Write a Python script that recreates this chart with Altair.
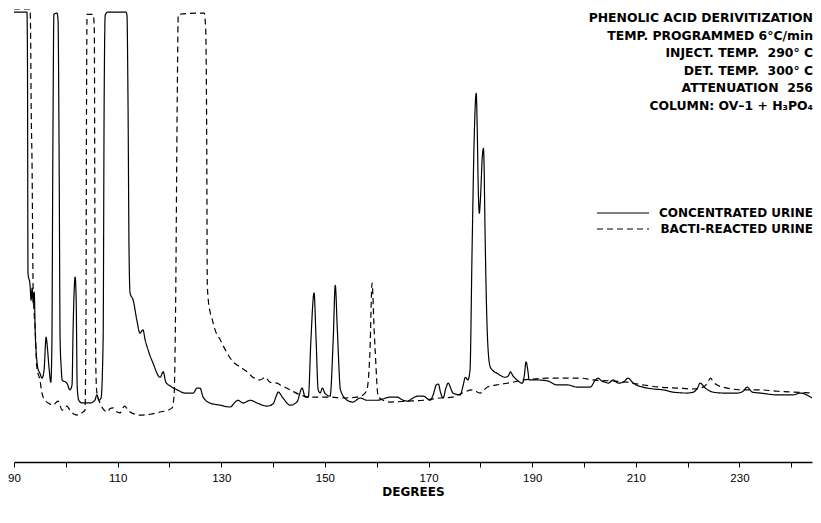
import altair as alt
import pandas as pd

# ---- data (degrees, detector response 0-100) ----
conc_deg = [90, 92.5, 92.6, 92.7, 93.1, 93.3, 93.5, 93.7, 93.9, 94.1, 94.4, 94.6, 95.0, 95.4, 95.8,
            96.2, 96.4, 96.8, 97.1, 97.3, 97.5, 97.7, 98.3, 98.5, 98.7, 98.9, 99.1, 99.3, 100.2, 100.8,
            101.2, 101.4, 101.8, 102.0, 102.2, 102.5, 103.1, 104.7, 105.6, 106.0, 106.4, 106.8, 107.2,
            107.4, 107.6, 108.0, 111.6, 111.8, 112.0, 112.2, 112.4, 113.0, 113.7, 114.3, 114.9, 115.3,
            115.7, 116.8, 118.2, 118.8, 119.3, 120.1, 121.5, 123.0, 124.6, 125.3, 125.9, 126.5, 127.8,
            129.8, 131.7, 132.7, 133.2, 134.2, 135.6, 136.9, 138.8, 140.0, 140.6, 141.0, 141.9, 143.3,
            144.6, 145.6, 146.2, 146.8, 147.3, 147.9, 148.3, 148.7, 149.1, 149.5, 150.0, 151.0, 151.6,
            152.0, 152.4, 153.0, 154.3, 155.4, 156.8, 158.1, 160.1, 161.2, 162.6, 163.9, 165.1, 165.9,
            167.0, 167.8, 169.0, 170.3, 170.9, 171.5, 171.9, 172.3, 172.8, 173.4, 173.8, 174.4, 174.7,
            176.1, 176.7, 177.1, 177.6, 178.0, 178.4, 178.8, 179.2, 179.4, 179.6, 179.8, 180.0, 180.4,
            180.6, 180.7, 180.9, 181.3, 181.5, 181.9, 182.5, 183.2, 184.8, 185.4, 185.8, 186.3, 186.7,
            188.1, 188.5, 188.8, 189.2, 189.4, 191.0, 192.9, 194.8, 196.8, 198.7, 201.2, 202.2, 202.7,
            203.5, 204.1, 204.7, 205.6, 206.6, 207.6, 208.5, 209.5, 211.4, 213.4, 215.3, 217.2, 219.9,
            221.1, 221.9, 222.4, 223.4, 224.9, 226.9, 229.6, 230.7, 231.5, 232.5, 234.0, 237.3, 240.4,
            241.7, 244.0]
conc_val = [99.8, 99.8, 89, 41.9, 39.2, 35.9, 38.6, 35.3, 37.7, 28.6, 22.6, 20.8, 19.7, 18.6, 20.4,
            27.7, 25.9, 20.4, 17.7, 24.8, 69.2, 99.3, 99.6, 98, 69.2, 27.1, 21.1, 18.2, 17.5, 16.0,
            17.1, 29.3, 41.0, 35.9, 16.6, 13.7, 13.1, 13.1, 13.7, 14.9, 13.7, 14.2, 27.1,
            80.3, 99.1, 99.8, 99.8, 99.1, 80.3, 47.0, 37.5, 35.9, 31.5, 28.6, 29.3, 27.1,
            25.5, 22.0, 18.8, 20.0, 17.7, 16.9, 16.0, 15.3, 15.3, 16.4, 16.4, 14.4, 13.1,
            12.6, 12.2, 13.3, 13.7, 13.1, 13.7, 13.1, 12.4, 12.9, 14.6, 15.5, 14.2, 12.6,
            13.3, 16.4, 14.4, 14.4, 27.1, 37.5, 27.1, 16.0, 15.3, 16.4, 15.3, 14.6, 27.1,
            39.2, 29.3, 16.0, 13.7, 13.3, 14.2, 13.7, 13.7, 14.0, 14.4, 14.4, 13.7, 13.5,
            14.2, 14.6, 14.6, 13.7, 14.9, 17.1, 17.3, 15.5, 14.2, 16.6, 17.5, 16.0, 15.3,
            14.9, 17.1, 18.8, 18.2, 20.4, 47.0, 71.4, 81.8, 73.6, 60.3, 55.2, 58.1, 68.1,
            69.6, 66.9, 51.4, 29.9, 24.8, 21.1, 20.2, 19.7, 18.8, 19.1, 20.0, 19.1, 18.6,
            17.5, 19.3, 22.2, 20.0, 18.2, 18.2, 18.0, 17.1, 17.1, 16.6, 16.6, 18.2, 18.6,
            17.9, 17.7, 17.5, 18.2, 17.5, 17.7, 18.6, 17.5, 16.6, 16.2, 16.0, 15.5, 15.3,
            15.5, 16.4, 17.5, 16.4, 15.5, 15.3, 15.3, 15.7, 16.6, 15.5, 15.3, 14.9, 14.9,
            15.3, 14.2]

bact_deg = [90, 93.1, 93.2, 93.3, 93.5, 93.6, 93.7, 94.1, 94.4, 95.0, 95.4, 96.0, 96.9, 97.5, 98.5,
            99.3, 100.2, 100.8, 101.6, 102.4, 103.1, 103.7, 103.9, 104.0, 104.1, 105.3, 105.5, 105.6,
            105.8, 106.0, 106.6, 107.4, 108.0, 108.5, 109.1, 109.9, 110.5, 111.0, 111.4, 112.0, 112.4,
            113.4, 114.3, 116.3, 118.2, 119.7, 120.5, 120.9, 121.2, 121.5, 121.7, 126.7, 127.0, 127.2,
            127.3, 127.5, 127.8, 128.2, 128.8, 129.8, 131.1, 132.3, 133.6, 135.0, 136.1, 137.5, 138.5,
            139.4, 140.8, 141.4, 143.3, 145.2, 147.1, 149.1, 151.0, 153.5, 156.2, 157.4, 158.1, 158.7,
            159.1, 159.5, 159.7, 160.3, 162.6, 165.9, 169.0, 172.2, 174.7, 176.5, 178.4, 180.0, 181.3,
            183.2, 186.3, 188.3, 190.2, 192.9, 196.0, 199.3, 201.8, 205.1, 208.3, 211.4, 214.7, 218.0,
            221.1, 223.0, 223.8, 224.4, 225.0, 225.7, 227.6, 230.7, 234.0, 237.3, 240.4, 244.0]
bact_val = [100.5, 100.5, 95.8, 80.3, 64.1, 49.2, 38.1, 29.3, 21.1, 18.2, 15.3, 13.7, 12.9, 12.6, 13.5,
            11.5, 12.4, 11.5, 10.6, 10.4, 10.9, 11.5, 35.9, 80.3, 99.3, 99.3, 95.8, 58.1,
            20.4, 15.3, 13.1, 11.5, 11.1, 11.8, 12.0, 11.1, 10.9, 12.0, 12.4, 11.5, 11.1,
            10.6, 10.4, 10.6, 11.1, 11.5, 12.0, 14.9, 35.9, 80.3, 99.3, 99.6, 95.8, 69.2,
            39.7, 35.9, 33.5, 31.9, 29.3, 27.1, 24.2, 22.2, 21.1, 20.0, 18.8, 18.2, 18.8,
            17.7, 17.5, 17.1, 16.0, 14.9, 14.4, 14.4, 14.4, 14.2, 14.4, 14.9, 16.0, 24.8,
            39.7, 29.3, 24.8, 14.4, 13.3, 13.5, 13.7, 14.2, 14.4, 15.3, 16.0, 15.3, 16.6,
            17.1, 17.7, 18.2, 18.4, 18.6, 18.6, 18.6, 18.2, 18.0, 17.7, 17.1, 16.6, 16.4,
            16.2, 16.6, 17.5, 18.6, 17.7, 17.1, 16.4, 16.0, 16.0, 15.7, 15.5, 15.3]

series = ["CONCENTRATED URINE", "BACTI-REACTED URINE"]
dashes = [[1, 0], [6, 4]]

NB = "\u00a0"
info_lines = ["PHENOLIC ACID DERIVITIZATION",
              "TEMP. PROGRAMMED 6°C/min",
              f"INJECT. TEMP.{NB}{NB}290° C",
              f"DET. TEMP.{NB}{NB}300° C",
              f"ATTENUATION{NB}{NB}256",
              "COLUMN: OV\u20131 + H\u2083PO\u2084"]

tick_values = list(range(90, 250, 10))

df = pd.concat([
    pd.DataFrame({"deg": conc_deg, "val": conc_val, "series": series[0], "order": range(len(conc_deg))}),
    pd.DataFrame({"deg": bact_deg, "val": bact_val, "series": series[1], "order": range(len(bact_deg))}),
])

W, H = 798, 453
BOLD = "DejaVu Sans"
FS = 12

x = alt.X("deg:Q", scale=alt.Scale(domain=[90, 244], nice=False, zero=False),
          axis=alt.Axis(values=tick_values, labelExpr="(datum.value - 90) % 20 == 0 ? datum.value : ''",
                        title="DEGREES", titleFont=BOLD, titleFontWeight="bold", titleFontSize=FS,
                        titleColor="black", titlePadding=3, labelFont="Liberation Sans", labelFontSize=11.5,
                        labelColor="black", labelPadding=5, tickSize=5, tickColor="black",
                        domainColor="black", domainWidth=1.5, tickWidth=1, grid=False, labelFlush=False))

lines = alt.Chart(df).mark_line(color="black", strokeWidth=1.2, interpolate="monotone", clip=True).encode(
    x=x,
    y=alt.Y("val:Q", scale=alt.Scale(domain=[0, 100.5], nice=False, zero=True), axis=None),
    strokeDash=alt.StrokeDash("series:N", scale=alt.Scale(domain=series, range=dashes), legend=None),
    detail="series:N",
    order="order:Q",
)

info_df = pd.DataFrame({"t": info_lines, "py": [18 + 17.6 * i - 9 for i in range(len(info_lines))]})
info = alt.Chart(info_df).mark_text(align="right", baseline="middle", font=BOLD, fontWeight="bold",
                                    fontSize=12.4, color="black").encode(
    x=alt.value(813 - 14), y=alt.Y("py:Q", scale=None), text="t:N")

leg_df = pd.DataFrame({"t": series, "py": [213 - 9, 229 - 9], "dash": series})
leg_lines = alt.Chart(leg_df).mark_rule(color="black", strokeWidth=1.2).encode(
    x=alt.value(597 - 14), x2=alt.value(649 - 14), y=alt.Y("py:Q", scale=None),
    strokeDash=alt.StrokeDash("dash:N", scale=alt.Scale(domain=series, range=dashes), legend=None))
leg_text = alt.Chart(leg_df).mark_text(align="right", baseline="middle", font=BOLD, fontWeight="bold",
                                       fontSize=FS, color="black").encode(
    x=alt.value(813 - 14), y=alt.Y("py:Q", scale=None), text="t:N")

chart = alt.layer(lines, info, leg_lines, leg_text).properties(
    width=W, height=H,
    background="white",
    autosize=alt.AutoSizeParams(type="none"),
    padding={"left": 6, "top": 1, "right": 1, "bottom": 50},
).configure_view(stroke=None, strokeWidth=0)

chart.save("out.html", embed_options={"renderer": "svg", "actions": False})
